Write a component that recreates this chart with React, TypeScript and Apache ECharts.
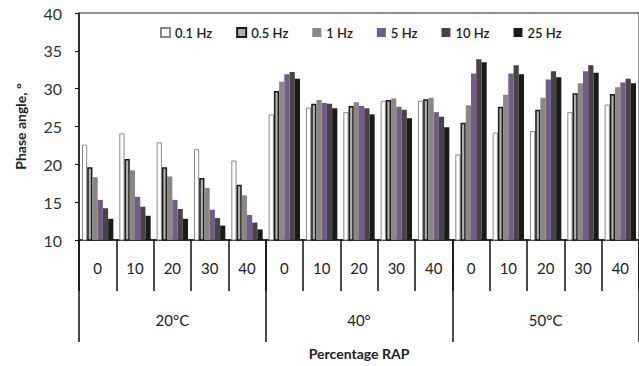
import React, { useEffect, useRef } from "react";
import * as echarts from "echarts";

const rapLabels = ["0", "10", "20", "30", "40", "0", "10", "20", "30", "40", "0", "10", "20", "30", "40"];
const tempLabels = ["20°C", "40°", "50°C"];
const seriesNames = ["0.1 Hz", "0.5 Hz", "1 Hz", "5 Hz", "10 Hz", "25 Hz"];

const hz01 = [22.6, 24.1, 22.9, 22.0, 20.5, 26.6, 27.5, 26.9, 28.4, 28.4, 21.3, 24.2, 24.4, 26.9, 27.9];
const hz05 = [19.6, 20.7, 19.6, 18.2, 17.3, 29.7, 28.0, 27.7, 28.5, 28.6, 25.5, 27.6, 27.2, 29.4, 29.3];
const hz1 = [18.3, 19.2, 18.4, 16.9, 15.9, 30.9, 28.5, 28.2, 28.7, 28.8, 27.8, 29.2, 28.8, 30.7, 30.2];
const hz5 = [15.3, 15.7, 15.3, 14.0, 13.3, 31.9, 28.1, 27.7, 27.6, 26.9, 32.0, 32.0, 31.2, 32.3, 30.8];
const hz10 = [14.2, 14.4, 14.1, 12.9, 12.3, 32.2, 28.0, 27.4, 27.2, 26.3, 33.9, 33.1, 32.3, 33.1, 31.3];
const hz25 = [12.8, 13.2, 12.8, 11.9, 11.4, 31.3, 27.4, 26.6, 26.1, 24.9, 33.5, 31.9, 31.5, 32.1, 30.7];

const allValues = [hz01, hz05, hz1, hz5, hz10, hz25];

const barStyles = [
  { color: "#ffffff", borderColor: "#8a8a8a", borderWidth: 1 },
  { color: "#b3b0ac", borderColor: "#1a1a1a", borderWidth: 1.5 },
  { color: "#8b8784", borderColor: "#8b8784", borderWidth: 0 },
  { color: "#735c8c", borderColor: "#735c8c", borderWidth: 0 },
  { color: "#4a4244", borderColor: "#4a4244", borderWidth: 0 },
  { color: "#1c1a1a", borderColor: "#1c1a1a", borderWidth: 0 },
];

const FONT = "Lato, 'Open Sans', sans-serif";

export default function App() {
  const ref = useRef<HTMLDivElement>(null);

  useEffect(() => {
    document.body.style.margin = "0";
    if (!ref.current) return;
    const chart = echarts.init(ref.current, undefined, { renderer: "svg" });
    const gridGeom = { left: 79, top: 13, width: 562, height: 227 };
    chart.setOption({
      animation: false,
      backgroundColor: "#ffffff",
      textStyle: { fontFamily: FONT },
      legend: {
        data: seriesNames,
        left: 155,
        top: 21,
        itemWidth: 9,
        itemHeight: 9,
        itemGap: 24,
        icon: "rect",
        textStyle: { fontSize: 13, color: "#222", fontFamily: FONT, fontWeight: 600 },
      },
      grid: [
        { ...gridGeom, show: true, borderColor: "#222", borderWidth: 1, backgroundColor: "transparent" },
        { ...gridGeom, show: false },
      ],
      xAxis: [
        {
          type: "category",
          gridIndex: 0,
          data: rapLabels,
          axisLine: { show: true, lineStyle: { color: "#111", width: 1.5 } },
          axisTick: { show: true, length: 51, interval: 0, lineStyle: { color: "#111", width: 1.5 } },
          axisLabel: { interval: 0, margin: 20, fontSize: 15, color: "#222", fontFamily: FONT },
          splitLine: { show: false },
        },
        {
          type: "category",
          gridIndex: 1,
          data: tempLabels,
          axisLine: { show: false },
          axisTick: { show: true, length: 102, interval: 0, lineStyle: { color: "#111", width: 1.5 } },
          axisLabel: { interval: 0, margin: 72, fontSize: 15, color: "#222", fontFamily: FONT },
          name: "Percentage RAP",
          nameLocation: "middle",
          nameGap: 106,
          nameTextStyle: { fontSize: 14, fontWeight: "bold", color: "#222", fontFamily: FONT },
          splitLine: { show: false },
        },
      ],
      yAxis: [
        {
          type: "value",
          gridIndex: 0,
          min: 10,
          max: 40,
          interval: 5,
          axisLine: { show: true, lineStyle: { color: "#111", width: 1.5 } },
          axisTick: { show: true, length: 4, lineStyle: { color: "#111" } },
          axisLabel: { fontSize: 16, color: "#333", margin: 17, fontFamily: FONT },
          splitLine: { show: false },
          name: "Phase angle, °",
          nameLocation: "middle",
          nameGap: 52,
          nameRotate: 90,
          nameTextStyle: { fontSize: 14, fontWeight: "bold", color: "#222", fontFamily: FONT },
        },
        { type: "value", gridIndex: 1, min: 10, max: 40, show: false },
      ],
      series: seriesNames.map((name, i) => ({
        name,
        type: "bar",
        xAxisIndex: 0,
        yAxisIndex: 0,
        data: allValues[i],
        barGap: "0%",
        barCategoryGap: "16%",
        itemStyle: barStyles[i],
      })),
    });
    return () => chart.dispose();
  }, []);

  return <div ref={ref} style={{ width: 639, height: 366 }} />;
}
